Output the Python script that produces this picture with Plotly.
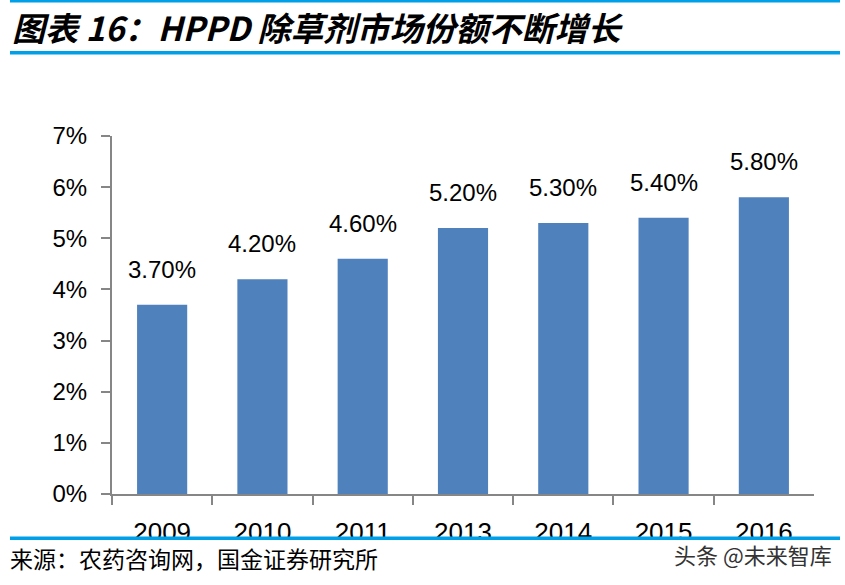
import plotly.graph_objects as go

years = ["2009", "2010", "2011", "2013", "2014", "2015", "2016"]
share = [0.037, 0.042, 0.046, 0.052, 0.053, 0.054, 0.058]
share_labels = ["3.70%", "4.20%", "4.60%", "5.20%", "5.30%", "5.40%", "5.80%"]
y_ticks = [0, 0.01, 0.02, 0.03, 0.04, 0.05, 0.06, 0.07]
y_ticktext = ["0%", "1%", "2%", "3%", "4%", "5%", "6%", "7%"]

W, H = 845, 585
BAR = "#4F81BD"
LINE_BLUE = "#00A0E9"
AXIS = "#868686"

def px(x):
    return x / W

def py(y):
    return 1 - y / H

xpos = list(range(len(years)))

fig = go.Figure()
fig.add_trace(go.Bar(
    x=xpos, y=share, marker=dict(color=BAR, line=dict(width=0)),
    width=0.5, hoverinfo="skip",
))

annotations = []
for i, (v, t) in enumerate(zip(share, share_labels)):
    annotations.append(dict(
        x=i, y=v, xref="x", yref="y", text=t, showarrow=False,
        yanchor="bottom", yshift=20,
        font=dict(family="Liberation Sans, Arial", size=24, color="#000000"),
    ))

annotations.append(dict(
    x=px(10), y=py(1), xref="paper", yref="paper", xanchor="left", yanchor="top",
    text="<b><i>图表 16：HPPD 除草剂市场份额不断增长</i></b>", showarrow=False,
    font=dict(family="Noto Sans CJK SC", size=33, color="#000000"),
))
annotations.append(dict(
    x=px(8), y=py(558), xref="paper", yref="paper", xanchor="left", yanchor="middle",
    text="来源：农药咨询网，国金证券研究所", showarrow=False,
    font=dict(family="Noto Sans CJK SC", size=23, color="#000000"),
))
annotations.append(dict(
    x=px(834), y=py(554), xref="paper", yref="paper", xanchor="right", yanchor="middle",
    text="头条 @未来智库", showarrow=False,
    font=dict(family="Noto Sans CJK SC", size=22, color="#333333"),
))

shapes = [
    dict(type="rect", xref="paper", yref="paper", x0=px(10), x1=px(840),
         y0=py(0), y1=py(2.5), fillcolor=LINE_BLUE, line=dict(width=0), layer="above"),
    dict(type="rect", xref="paper", yref="paper", x0=px(10), x1=px(840),
         y0=py(51), y1=py(54.5), fillcolor=LINE_BLUE, line=dict(width=0), layer="above"),
    dict(type="rect", xref="paper", yref="paper", x0=px(0), x1=px(845),
         y0=py(539), y1=py(546), fillcolor="#FFFFFF", line=dict(width=0), layer="above"),
    dict(type="rect", xref="paper", yref="paper", x0=px(10), x1=px(840),
         y0=py(536.5), y1=py(540), fillcolor=LINE_BLUE, line=dict(width=0), layer="above"),
]

fig.update_layout(
    width=W, height=H,
    margin=dict(l=0, r=0, t=0, b=0, pad=0, autoexpand=False),
    paper_bgcolor="#FFFFFF", plot_bgcolor="#FFFFFF",
    showlegend=False,
    annotations=annotations,
    shapes=shapes,
    xaxis=dict(
        domain=[px(112), px(814)],
        range=[-0.5, len(years) - 0.5],
        tickmode="array", tickvals=xpos, ticktext=years,
        ticks="", showgrid=False, zeroline=False,
        showline=True, linecolor=AXIS, linewidth=2,
        tickfont=dict(family="Liberation Sans, Arial", size=26, color="#000000"),
        ticklabelstandoff=14,
        minor=dict(tickmode="array", tickvals=[i - 0.5 for i in range(len(years))],
                   ticks="outside", ticklen=9, tickwidth=2, tickcolor=AXIS, showgrid=False),
        automargin=False,
        fixedrange=True,
    ),
    yaxis=dict(
        domain=[py(494), py(136)],
        range=[0, 0.07],
        tickmode="array", tickvals=y_ticks, ticktext=y_ticktext,
        ticks="outside", ticklen=9, tickwidth=2, tickcolor=AXIS,
        showgrid=False, zeroline=False,
        showline=True, linecolor=AXIS, linewidth=2,
        tickfont=dict(family="Liberation Sans, Arial", size=24, color="#000000"),
        ticklabelstandoff=9,
        automargin=False,
        fixedrange=True,
    ),
)

fig.write_html(
    "out.html",
    config={"displayModeBar": False},
    post_script="document.body.style.margin='0';",
)
